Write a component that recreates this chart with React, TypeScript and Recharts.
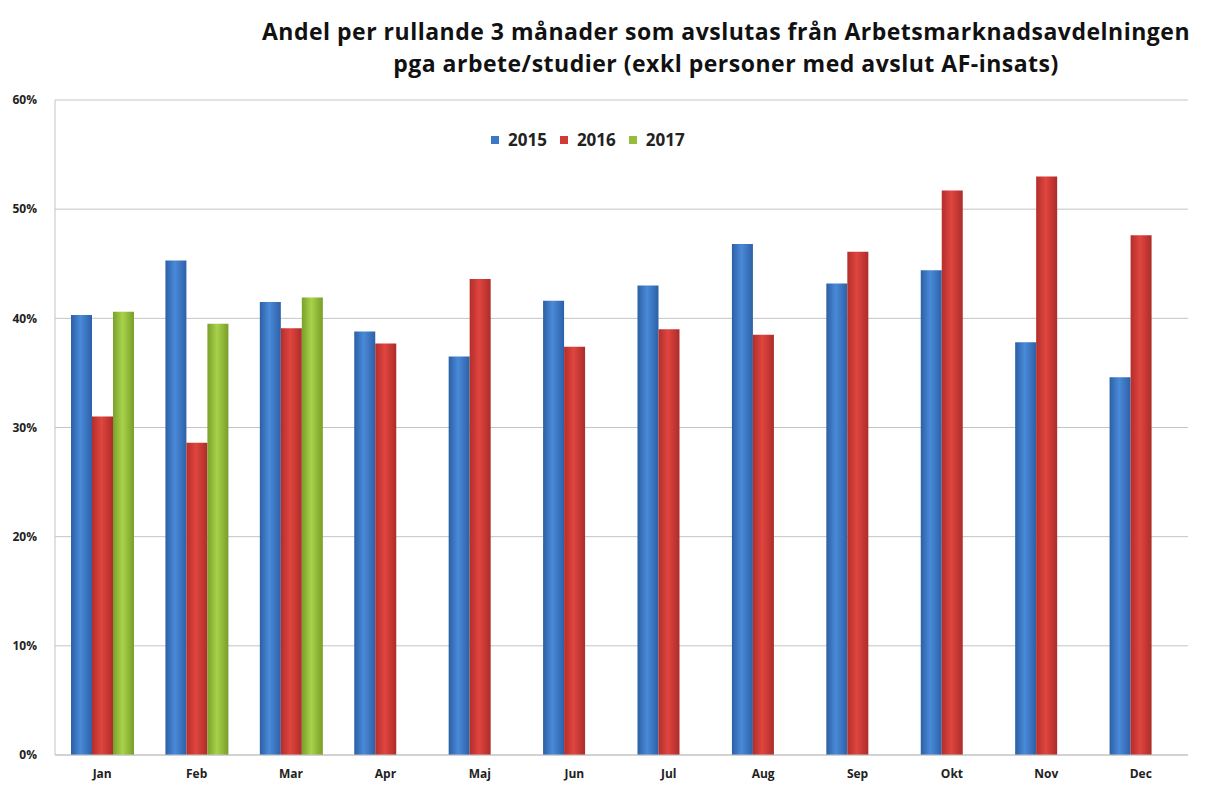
import { BarChart, Bar, XAxis, YAxis, CartesianGrid, Legend } from 'recharts'

const months = ['Jan', 'Feb', 'Mar', 'Apr', 'Maj', 'Jun', 'Jul', 'Aug', 'Sep', 'Okt', 'Nov', 'Dec']
const v2015 = [40.3, 45.3, 41.5, 38.8, 36.5, 41.6, 43.0, 46.8, 43.2, 44.4, 37.8, 34.6]
const v2016 = [31.0, 28.6, 39.1, 37.7, 43.6, 37.4, 39.0, 38.5, 46.1, 51.7, 53.0, 47.6]
const v2017 = [40.6, 39.5, 41.9, null, null, null, null, null, null, null, null, null]
const yTicks = [0, 10, 20, 30, 40, 50, 60]

const data = months.map((m, i) => ({ name: m, '2015': v2015[i], '2016': v2016[i], '2017': v2017[i] }))

const font = '"Open Sans", Lato, sans-serif'
const legendColors: Record<string, string> = { '2015': '#3b78c6', '2016': '#cf3b36', '2017': '#95bd3b' }

function LegendContent(props: any) {
  const items = props.payload || []
  return (
    <div style={{ display: 'flex', alignItems: 'center', fontWeight: 700, fontSize: 17, fontFamily: font, color: '#222' }}>
      {items.map((it: any) => (
        <div key={it.value} style={{ display: 'flex', alignItems: 'center', marginRight: 13 }}>
          <span style={{ display: 'inline-block', width: 8, height: 8, background: legendColors[it.value], marginRight: 9 }} />
          <span>{it.value}</span>
        </div>
      ))}
    </div>
  )
}

export default function App() {
  return (
    <div style={{ position: 'absolute', left: 0, top: 0, width: 1212, height: 785, background: '#fff', fontFamily: font }}>
      <div style={{ position: 'absolute', left: 200, width: 1052, top: 15, textAlign: 'center', fontWeight: 700, fontSize: 23, lineHeight: '32px', color: '#111', letterSpacing: 0.5 }}>
        Andel per rullande 3 månader som avslutas från Arbetsmarknadsavdelningen
        <br />
        pga arbete/studier (exkl personer med avslut AF-insats)
      </div>
      <BarChart width={1212} height={785} data={data} margin={{ top: 78, right: 24, left: 5, bottom: 0 }} barGap={0} barSize={21}>
        <defs>
          <linearGradient id="g15" x1="0" y1="0" x2="1" y2="0">
            <stop offset="0%" stopColor="#2c5fa5" />
            <stop offset="45%" stopColor="#4a8ad8" />
            <stop offset="100%" stopColor="#2d60a8" />
          </linearGradient>
          <linearGradient id="g16" x1="0" y1="0" x2="1" y2="0">
            <stop offset="0%" stopColor="#b32e2b" />
            <stop offset="45%" stopColor="#e0453f" />
            <stop offset="100%" stopColor="#ad2c29" />
          </linearGradient>
          <linearGradient id="g17" x1="0" y1="0" x2="1" y2="0">
            <stop offset="0%" stopColor="#79a02a" />
            <stop offset="45%" stopColor="#a9d24b" />
            <stop offset="100%" stopColor="#789e28" />
          </linearGradient>
        </defs>
        <CartesianGrid vertical={false} stroke="#c4c4c4" />
        <XAxis
          dataKey="name"
          height={30}
          tickLine={false}
          axisLine={{ stroke: '#c4c4c4' }}
          tick={{ fontSize: 12, fontWeight: 700, fill: '#222', fontFamily: font }}
          tickMargin={8}
        />
        <YAxis
          width={50}
          domain={[0, 60]}
          ticks={yTicks}
          tickFormatter={(v) => `${v}%`}
          tickLine={false}
          axisLine={{ stroke: '#c4c4c4' }}
          tick={{ fontSize: 12, fontWeight: 700, fill: '#222', fontFamily: font }}
          tickMargin={12}
        />
        <Legend
          verticalAlign="top"
          align="left"
          content={LegendContent}
          wrapperStyle={{ top: 128, left: 491, width: 240, height: 22 }}
        />
        <Bar dataKey="2015" name="2015" fill="url(#g15)" isAnimationActive={false} />
        <Bar dataKey="2016" name="2016" fill="url(#g16)" isAnimationActive={false} />
        <Bar dataKey="2017" name="2017" fill="url(#g17)" isAnimationActive={false} />
      </BarChart>
    </div>
  )
}
